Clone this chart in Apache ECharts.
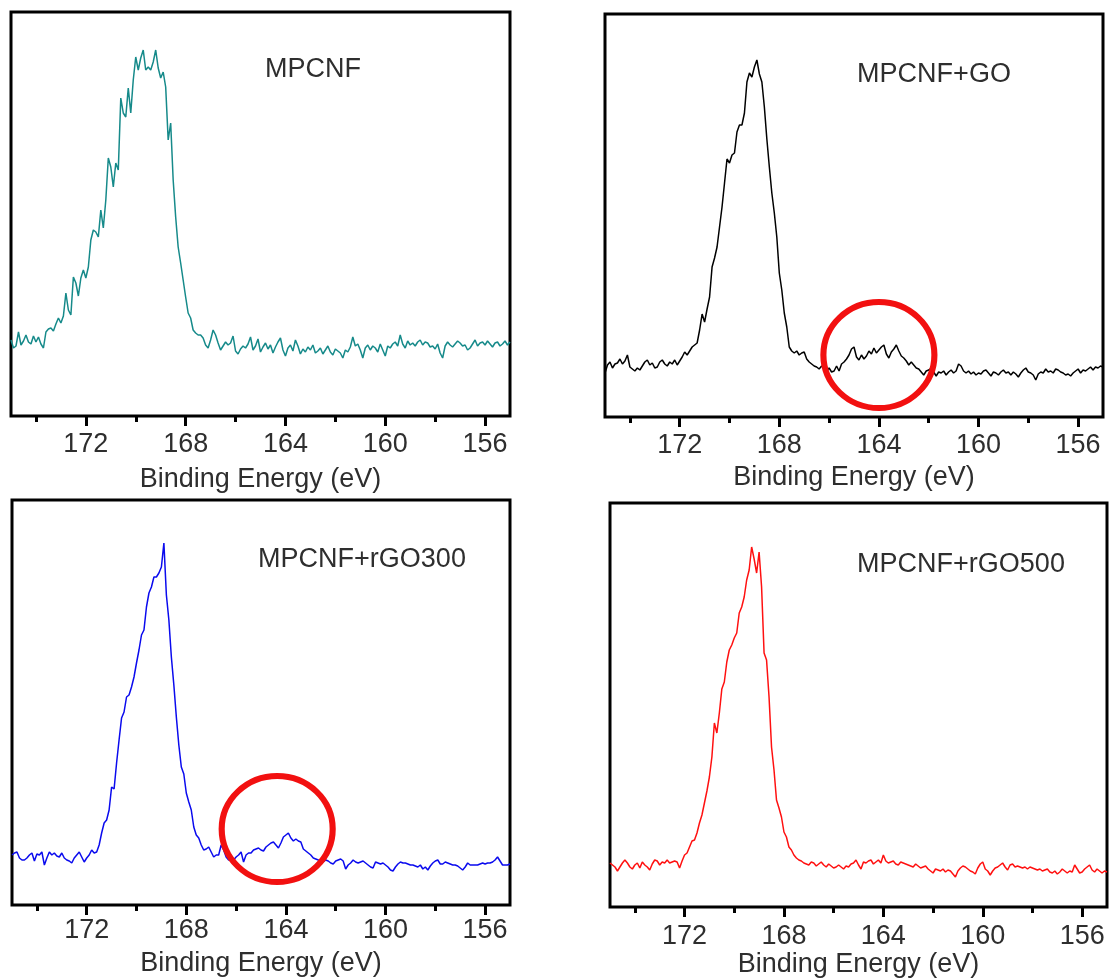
<!DOCTYPE html>
<html><head><meta charset="utf-8">
<script src="https://cdn.jsdelivr.net/npm/echarts@6/dist/echarts.min.js"></script>
<style>html,body{margin:0;padding:0;background:#fff}#c{width:1109px;height:980px}</style>
</head><body><div id="c"></div>
<script>
// Energy grid of the spectra (eV): first point and step
const energyStart = 175, energyStep = 0.1;
const majorTicks = [172, 168, 164, 160, 156];
const minorTicks = [174, 170, 166, 162, 158];
const panelTitles = ['MPCNF', 'MPCNF+GO', 'MPCNF+rGO300', 'MPCNF+rGO500'];
const axisTitle = 'Binding Energy (eV)';

// Intensities (a.u.), 175.0 -> 155.0 eV
const mpcnf = [
 76,68,70,84,71,75,81,74,72,80,74,79,72,68,
 84,87,88,85,92,98,93,100,123,106,
 101,139,133,120,138,146,138,149,176,186,
 184,179,206,188,216,258,249,229,253,246,
 318,303,299,328,303,336,359,346,358,366,
 346,349,346,354,366,348,338,344,329,276,
 293,236,199,169,153,136,119,103,98,86,
 83,81,81,78,71,68,76,86,81,73,
 66,70,74,71,73,80,65,62,67,70,
 68,72,79,66,70,77,64,69,73,67,
 71,63,69,74,78,66,60,68,71,65,
 76,70,62,67,64,69,66,71,63,65,
 68,62,66,70,64,61,67,65,63,58,
 66,64,69,79,70,72,66,58,68,71,
 66,70,68,64,72,66,60,70,68,72,
 74,70,81,72,68,75,71,73,70,74,
 76,71,74,73,69,70,67,72,63,58,
 70,74,71,69,72,75,73,70,71,66,
 68,72,76,70,73,74,71,75,72,69,
 73,74,70,72,75,71,74
];
const mpcnfGO = [
 44,52,55,49,53,54,58,53,56,62,
 50,48,46,49,47,51,55,57,52,54,
 49,50,55,57,53,51,55,53,57,52,
 56,60,65,62,66,70,72,74,87,103,
 95,108,120,150,159,170,190,210,234,258,
 254,262,264,285,292,292,304,335,344,340,
 350,357,343,335,310,278,250,224,204,180,
 144,127,104,90,70,66,64,66,62,64,
 65,58,55,
 53,51,50,48,51,49,46,49,45,46,
 51,46,53,55,58,62,68,70,60,57,
 62,58,61,66,63,69,64,67,70,72,
 63,59,65,68,72,66,61,59,56,52,
 55,52,49,48,45,42,46,47,49,45,
 41,45,44,46,42,45,47,44,46,53,
 51,46,44,46,43,45,42,44,43,46,
 47,44,41,45,44,42,45,47,44,45,
 42,45,43,40,44,47,49,45,44,42,
 37,43,45,44,48,45,46,44,48,47,
 45,44,42,43,41,44,46,48,44,47,
 46,48,50,47,50,49,51,50
];
const mpcnfRGO300 = [
 50,52,53,47,45,45,47,50,52,44,
 51,50,53,40,47,53,50,52,49,48,
 52,47,45,44,42,47,50,53,48,43,
 47,50,55,52,53,60,72,82,85,95,
 118,116,142,165,187,193,208,210,218,228,
 242,255,270,275,298,312,318,328,328,332,
 338,362,310,285,248,220,188,160,138,131,
 112,103,95,78,70,67,60,55,56,58,
 53,48,50,
 50,60,55,48,45,46,45,48,50,53,
 43,50,52,52,55,56,57,55,54,58,
 60,62,63,60,57,62,68,70,72,67,
 64,66,64,63,56,54,52,50,47,46,
 45,44,43,45,44,42,41,44,45,46,
 44,36,40,42,45,43,42,43,44,42,
 40,38,37,43,42,41,42,40,38,35,
 34,38,41,43,42,42,41,40,40,39,
 38,40,36,38,35,39,42,44,45,41,
 41,43,42,41,40,40,39,37,35,38,
 42,40,40,40,40,41,42,41,42,42,
 43,45,48,44,40,40,40,41
];
const mpcnfRGO500 = [
 44,42,40,36,40,44,47,44,40,38,
 42,44,39,45,42,40,37,43,47,46,
 42,45,44,47,44,45,46,45,39,46,
 52,54,60,66,67,74,84,92,104,116,
 130,150,184,174,194,218,225,245,257,262,
 269,274,294,300,310,327,337,360,348,334,
 355,320,254,247,210,160,137,107,99,90,
 75,70,60,57,52,49,47,46,44,43,
 42,45,44,
 41,43,45,42,40,43,41,39,40,42,
 40,38,41,40,43,44,47,42,38,45,
 44,46,47,43,45,47,44,52,46,44,
 45,46,43,42,45,44,43,42,41,40,
 43,41,39,40,41,38,36,34,38,37,
 36,38,35,37,36,33,30,36,39,41,
 40,38,36,35,33,39,43,45,38,36,
 32,36,39,40,42,44,40,37,42,43,
 40,41,40,39,40,38,40,39,38,37,
 38,36,37,38,35,34,36,33,35,38,
 36,34,36,35,42,38,34,35,38,40,
 42,37,35,38,36,34,36,35
];
const spectra = [mpcnf, mpcnfGO, mpcnfRGO300, mpcnfRGO500];
// Highlight circles: [energy, intensity] of circle centre (null = none)
const circleMarks = [null, [164.0, 62], [164.35, 76], null];

const lineColors = ['#168a8a', '#000000', '#0a0aee', '#ff1010'];
const grids = [
  {left: 11, top: 12, width: 499, height: 404},
  {left: 605, top: 14, width: 498, height: 403},
  {left: 12, top: 500, width: 498, height: 405},
  {left: 610, top: 503, width: 497, height: 404}
];
const labelMargins = [15, 15, 12, 16];
const nameGaps = [50, 47, 45, 44];
const titlePos = [[313, 70], [934, 75], [362, 560], [961, 565]];
const FONT = '"Liberation Sans", Arial, sans-serif';
const TXT = '#2e2e2e';

const option = {
  animation: false,
  backgroundColor: '#fff',
  grid: grids.map(g => Object.assign({show: true, borderColor: '#000', borderWidth: 3, backgroundColor: 'transparent'}, g)),
  xAxis: [],
  yAxis: [],
  series: [],
  graphic: []
};

grids.forEach((g, k) => {
  option.xAxis.push({
    type: 'value', gridIndex: k, position: 'bottom', min: 155, max: 175, inverse: true,
    axisLine: {show: false},
    splitLine: {show: false},
    axisTick: {show: true, customValues: majorTicks, length: 10, lineStyle: {color: '#000', width: 3}},
    axisLabel: {show: true, customValues: majorTicks, fontSize: 27, color: TXT, fontFamily: FONT, margin: labelMargins[k]},
    name: axisTitle, nameLocation: 'middle', nameGap: nameGaps[k],
    nameTextStyle: {fontSize: 27, color: TXT, fontFamily: FONT}
  });
  option.xAxis.push({
    type: 'value', gridIndex: k, position: 'bottom', min: 155, max: 175, inverse: true,
    axisLine: {show: false},
    splitLine: {show: false},
    axisTick: {show: true, customValues: minorTicks, length: 6, lineStyle: {color: '#000', width: 3}},
    axisLabel: {show: false}
  });
  option.yAxis.push({
    type: 'value', gridIndex: k, min: 0, max: g.height, show: false
  });
  option.series.push({
    type: 'line', xAxisIndex: 2 * k, yAxisIndex: k, showSymbol: false, symbol: 'none',
    lineStyle: {color: lineColors[k], width: 1.5},
    data: spectra[k].map((v, i) => [+(energyStart - i * energyStep).toFixed(2), v]),
    silent: true
  });
  if (circleMarks[k]) {
    option.series.push({
      type: 'scatter', xAxisIndex: 2 * k, yAxisIndex: k, z: 5, silent: true,
      symbol: 'circle', symbolSize: [111, 106],
      itemStyle: {color: 'rgba(0,0,0,0)', borderColor: '#f21010', borderWidth: 6, opacity: 1},
      data: [circleMarks[k]]
    });
  }
  option.graphic.push({
    type: 'text', x: titlePos[k][0], y: titlePos[k][1], silent: true,
    style: {text: panelTitles[k], fill: TXT, fontSize: 27, fontFamily: FONT, textAlign: 'center', textVerticalAlign: 'middle'}
  });
});

const chart = echarts.init(document.getElementById('c'), null, {renderer: 'canvas'});
chart.setOption(option);
</script>
</body></html>
